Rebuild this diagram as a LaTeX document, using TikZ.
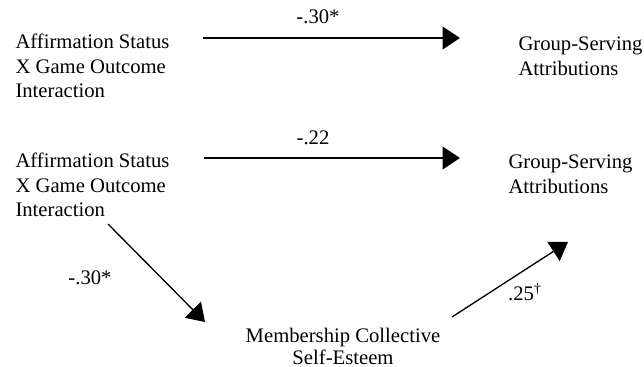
\documentclass[tikz,border=0pt]{standalone}
\usepackage{fontspec}
\setmainfont{Liberation Serif}
\usetikzlibrary{arrows.meta}

\tikzset{every picture/.style={line width=0.75pt}}
\tikzset{
  vartext/.style={inner sep=0pt, font=\fontsize{15.5}{18.6}\selectfont},
  coef/.style={inner sep=0pt, font=\fontsize{15.5}{18.6}\selectfont},
  path/.style={line width=1pt, -{Triangle[length=13pt,width=17pt]}}
}

\begin{document}
\begin{tikzpicture}[x=0.75pt,y=0.75pt,yscale=-1,xscale=1]
\useasboundingbox (0,0) rectangle (644,367);

% Total effect
\node [vartext, anchor=west, align=left] (affA) at (15,66) {Affirmation Status\\X Game Outcome\\Interaction};
\node [vartext, anchor=west, align=left] (gsaA) at (518,56) {Group-Serving\\Attributions};
\coordinate (cA1) at (203,38);
\coordinate (cA2) at (460,38);
\draw [path] (cA1) -- (cA2);
\node [coef] (coefA) at (318,17) {-.30*};

% Mediated model
\node [vartext, anchor=west, align=left] (affB) at (15,185) {Affirmation Status\\X Game Outcome\\Interaction};
\node [vartext, anchor=west, align=left] (gsaB) at (508,174) {Group-Serving\\Attributions};
\node [vartext, align=center, font=\fontsize{15.5}{16.5}\selectfont] (mcse) at (343,346) {Membership Collective\\Self-Esteem};
\coordinate (cB1) at (204,158);
\coordinate (cB2) at (460,158);
\draw [path] (cB1) -- (cB2);
\node [coef] (coefB) at (313,138) {-.22};

\coordinate (cC1) at (108,224);
\coordinate (cC2) at (205,322);
\draw [path] (cC1) -- (cC2);
\node [coef] (coefC) at (90,278) {-.30*};

\coordinate (cD1) at (452,317);
\coordinate (cD2) at (568,242);
\draw [path] (cD1) -- (cD2);
\node [coef] (coefD) at (525,292) {.25\textsuperscript{\textdagger}};

\end{tikzpicture}
\end{document}
